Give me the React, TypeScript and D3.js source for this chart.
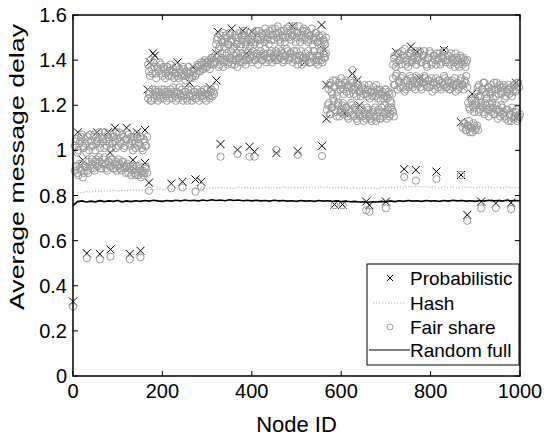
import React from "react";
import * as d3 from "d3";

// ---------- DATA ----------
const xTicks = [0, 200, 400, 600, 800, 1000];
const yTicks = [0, 0.2, 0.4, 0.6, 0.8, 1, 1.2, 1.4, 1.6];
const yTickLabels = ["0", "0.2", "0.4", "0.6", "0.8", "1", "1.2", "1.4", "1.6"];
const legendLabels = ["Probabilistic", "Hash", "Fair share", "Random full"];

const bandStep = 4;
// Fair share bands (values every 4 nodes from a start node)
const fairAUpper = [
  1.02, 1.05, 1.0, 1.04, 1.07, 1.01, 1.03, 1.06, 1.0, 1.04,
  1.02, 1.07, 1.03, 1.05, 1.01, 1.06, 1.04, 1.08, 1.02, 1.05,
  1.07, 1.03, 1.06, 1.01, 1.05, 1.08, 1.03, 1.06, 1.02, 1.05,
  1.07, 1.02, 1.04, 1.06, 1.01, 1.05, 1.03, 1.06, 1.0, 1.04, 1.02,
];
const fairAUpper2 = [
  1.04, 0.99, 1.03, 1.06, 1.02, 1.05, 0.99, 1.04, 1.07, 1.02,
  1.06, 1.0, 1.04, 1.08, 1.03, 1.05, 1.01, 1.04, 1.07, 1.03,
  1.01, 1.06, 1.04, 1.08, 1.02, 1.04, 1.07, 1.01, 1.05, 1.08,
  1.03, 1.06, 1.0, 1.03, 1.07, 1.02, 1.06, 1.01, 1.05, 1.02, 1.06,
];
const fairALower = [
  0.91, 0.93, 0.89, 0.92, 0.94, 0.9, 0.93, 0.91, 0.95, 0.92,
  0.94, 0.91, 0.96, 0.93, 0.95, 0.92, 0.96, 0.94, 0.91, 0.95,
  0.93, 0.96, 0.92, 0.95, 0.93, 0.94, 0.91, 0.95, 0.92, 0.93,
  0.9, 0.93, 0.91, 0.92, 0.89, 0.91, 0.93, 0.88, 0.91, 0.9, 0.92,
];
const fairALower2 = [
  0.93, 0.9, 0.94, 0.91, 0.88, 0.93, 0.95, 0.9, 0.93, 0.96,
  0.92, 0.95, 0.93, 0.97, 0.92, 0.94, 0.97, 0.92, 0.95, 0.93,
  0.96, 0.92, 0.94, 0.91, 0.96, 0.92, 0.95, 0.93, 0.9, 0.94,
  0.92, 0.89, 0.93, 0.9, 0.93, 0.89, 0.92, 0.9, 0.89, 0.93, 0.9,
];
const fairBUpper = [
  1.38, 1.33, 1.36, 1.39, 1.34, 1.37, 1.35, 1.38, 1.33, 1.36,
  1.34, 1.37, 1.35, 1.33, 1.36, 1.34, 1.37, 1.32, 1.35, 1.33,
  1.36, 1.31, 1.34, 1.32, 1.35, 1.33, 1.36, 1.34, 1.37, 1.35,
  1.38, 1.36, 1.39, 1.37, 1.4, 1.38, 1.41, 1.39,
];
const fairBUpper2 = [
  1.35, 1.4, 1.34, 1.37, 1.32, 1.36, 1.39, 1.34, 1.37, 1.32,
  1.37, 1.33, 1.38, 1.35, 1.32, 1.37, 1.33, 1.36, 1.34, 1.37,
  1.33, 1.35, 1.37, 1.34, 1.32, 1.36, 1.33, 1.38, 1.35, 1.39,
  1.36, 1.4, 1.37, 1.39, 1.36, 1.41, 1.38, 1.42,
];
const fairBLower = [
  1.23, 1.26, 1.22, 1.25, 1.27, 1.24, 1.26, 1.23, 1.25, 1.27,
  1.24, 1.26, 1.23, 1.25, 1.28, 1.24, 1.26, 1.23, 1.25, 1.27,
  1.24, 1.26, 1.22, 1.25, 1.27, 1.24, 1.26, 1.23, 1.25, 1.24,
  1.26, 1.23, 1.25, 1.27, 1.24, 1.26, 1.24, 1.25,
];
const fairBLower2 = [
  1.25, 1.22, 1.27, 1.23, 1.26, 1.22, 1.24, 1.27, 1.23, 1.26,
  1.22, 1.25, 1.27, 1.23, 1.26, 1.22, 1.25, 1.28, 1.24, 1.22,
  1.26, 1.23, 1.27, 1.24, 1.22, 1.26, 1.23, 1.27, 1.22, 1.26,
  1.24, 1.27, 1.22, 1.25, 1.23, 1.27, 1.26, 1.28,
];
const fairCUpper = [
  1.47, 1.5, 1.46, 1.49, 1.52, 1.48, 1.5, 1.47, 1.51, 1.49,
  1.46, 1.5, 1.48, 1.52, 1.47, 1.49, 1.51, 1.48, 1.5, 1.46,
  1.49, 1.52, 1.48, 1.5, 1.53, 1.49, 1.51, 1.48, 1.52, 1.5,
  1.53, 1.49, 1.51, 1.54, 1.5, 1.52, 1.48, 1.51, 1.53, 1.5,
  1.52, 1.55, 1.49, 1.51, 1.53, 1.5, 1.52, 1.48, 1.51, 1.54,
  1.5, 1.52, 1.49, 1.51, 1.47, 1.5, 1.52, 1.48, 1.5, 1.46, 1.49, 1.47,
];
const fairCUpper2 = [
  1.49, 1.45, 1.51, 1.48, 1.46, 1.51, 1.47, 1.52, 1.48, 1.45,
  1.51, 1.47, 1.5, 1.46, 1.51, 1.53, 1.47, 1.49, 1.52, 1.48,
  1.51, 1.47, 1.53, 1.49, 1.47, 1.52, 1.5, 1.54, 1.49, 1.47,
  1.51, 1.54, 1.49, 1.52, 1.55, 1.49, 1.53, 1.5, 1.48, 1.54,
  1.5, 1.53, 1.51, 1.55, 1.48, 1.52, 1.55, 1.5, 1.53, 1.49,
  1.53, 1.48, 1.51, 1.54, 1.49, 1.52, 1.48, 1.51, 1.47, 1.51, 1.48, 1.5,
];
const fairCLower = [
  1.39, 1.42, 1.38, 1.41, 1.37, 1.4, 1.43, 1.39, 1.41, 1.38,
  1.42, 1.4, 1.37, 1.41, 1.43, 1.39, 1.42, 1.4, 1.44, 1.41,
  1.39, 1.42, 1.4, 1.43, 1.41, 1.44, 1.4, 1.42, 1.39, 1.43,
  1.41, 1.44, 1.42, 1.4, 1.43, 1.45, 1.41, 1.43, 1.4, 1.42,
  1.44, 1.41, 1.43, 1.39, 1.42, 1.44, 1.4, 1.42, 1.38, 1.41,
  1.43, 1.4, 1.42, 1.39, 1.41, 1.44, 1.4, 1.38, 1.42, 1.4, 1.43, 1.41,
];
const fairCLower2 = [
  1.41, 1.37, 1.4, 1.43, 1.39, 1.42, 1.38, 1.41, 1.44, 1.4,
  1.38, 1.43, 1.41, 1.39, 1.42, 1.4, 1.38, 1.43, 1.4, 1.42,
  1.44, 1.4, 1.43, 1.38, 1.42, 1.4, 1.43, 1.45, 1.41, 1.4,
  1.43, 1.39, 1.41, 1.44, 1.4, 1.42, 1.44, 1.39, 1.42, 1.45,
  1.4, 1.43, 1.41, 1.44, 1.4, 1.38, 1.42, 1.44, 1.41, 1.39,
  1.41, 1.44, 1.39, 1.42, 1.44, 1.39, 1.42, 1.4, 1.44, 1.39, 1.41, 1.43,
];
const fairDUpper = [
  1.27, 1.3, 1.25, 1.28, 1.31, 1.26, 1.29, 1.32, 1.27, 1.3,
  1.26, 1.29, 1.31, 1.27, 1.25, 1.28, 1.3, 1.26, 1.24, 1.27,
  1.29, 1.25, 1.27, 1.23, 1.26, 1.28, 1.24, 1.27, 1.25, 1.22,
  1.26, 1.24, 1.27, 1.23, 1.25, 1.21,
];
const fairDUpper2 = [
  1.29, 1.26, 1.31, 1.28, 1.24, 1.3, 1.27, 1.29, 1.25, 1.31,
  1.28, 1.25, 1.28, 1.3, 1.27, 1.24, 1.29, 1.26, 1.28, 1.25,
  1.27, 1.24, 1.29, 1.26, 1.24, 1.26, 1.29, 1.23, 1.27, 1.25,
  1.23, 1.27, 1.24, 1.26, 1.22, 1.25,
];
const fairDLower = [
  1.18, 1.21, 1.16, 1.19, 1.22, 1.17, 1.2, 1.15, 1.18, 1.21,
  1.17, 1.19, 1.14, 1.17, 1.2, 1.15, 1.18, 1.13, 1.16, 1.19,
  1.15, 1.17, 1.14, 1.18, 1.16, 1.13, 1.17, 1.19, 1.15, 1.18,
  1.14, 1.17, 1.2, 1.16, 1.18, 1.15, 1.19, 1.17,
];
const fairDLower2 = [
  1.2, 1.16, 1.19, 1.23, 1.18, 1.15, 1.21, 1.17, 1.2, 1.16,
  1.19, 1.15, 1.18, 1.21, 1.16, 1.19, 1.14, 1.17, 1.15, 1.18,
  1.13, 1.16, 1.19, 1.15, 1.14, 1.18, 1.15, 1.13, 1.17, 1.14,
  1.19, 1.15, 1.17, 1.14, 1.19, 1.16, 1.18, 1.15,
];
const fairEUpper = [
  1.38, 1.42, 1.39, 1.43, 1.4, 1.44, 1.41, 1.38, 1.42, 1.39,
  1.43, 1.4, 1.42, 1.38, 1.41, 1.44, 1.39, 1.42, 1.4, 1.37,
  1.41, 1.43, 1.39, 1.42, 1.38, 1.4, 1.43, 1.39, 1.41, 1.44,
  1.4, 1.42, 1.38, 1.41, 1.39, 1.43, 1.4, 1.37, 1.41, 1.38, 1.4, 1.39,
];
const fairEUpper2 = [
  1.41, 1.37, 1.43, 1.4, 1.38, 1.42, 1.45, 1.4, 1.37, 1.43,
  1.39, 1.41, 1.44, 1.4, 1.43, 1.39, 1.42, 1.44, 1.38, 1.41,
  1.44, 1.38, 1.42, 1.4, 1.43, 1.41, 1.38, 1.42, 1.44, 1.39,
  1.42, 1.39, 1.43, 1.4, 1.37, 1.41, 1.38, 1.42, 1.39, 1.41, 1.37, 1.4,
];
const fairELower = [
  1.32, 1.29, 1.34, 1.31, 1.28, 1.33, 1.3, 1.27, 1.31, 1.29,
  1.32, 1.28, 1.3, 1.33, 1.29, 1.31, 1.27, 1.3, 1.32, 1.28,
  1.31, 1.29, 1.26, 1.3, 1.32, 1.28, 1.31, 1.27, 1.29, 1.32,
  1.28, 1.3, 1.27, 1.31, 1.29, 1.26, 1.3, 1.28, 1.32, 1.29, 1.31, 1.33,
];
const fairELower2 = [
  1.29, 1.33, 1.27, 1.3, 1.32, 1.28, 1.26, 1.31, 1.28, 1.33,
  1.29, 1.31, 1.27, 1.3, 1.32, 1.28, 1.3, 1.33, 1.29, 1.31,
  1.28, 1.32, 1.3, 1.27, 1.29, 1.31, 1.28, 1.3, 1.33, 1.28,
  1.31, 1.27, 1.3, 1.28, 1.32, 1.29, 1.27, 1.31, 1.29, 1.27, 1.3, 1.28,
];
const fairFUpper = [
  1.26, 1.29, 1.24, 1.27, 1.3, 1.25, 1.28, 1.26, 1.29, 1.23,
  1.27, 1.3, 1.25, 1.28, 1.26, 1.29, 1.24, 1.27, 1.25, 1.28,
  1.26, 1.29, 1.27, 1.3,
];
const fairFUpper2 = [
  1.28, 1.24, 1.27, 1.3, 1.26, 1.23, 1.28, 1.25, 1.27, 1.3,
  1.24, 1.27, 1.29, 1.25, 1.28, 1.23, 1.26, 1.29, 1.27, 1.24,
  1.29, 1.26, 1.3, 1.28,
];
const fairFLower = [
  1.21, 1.18, 1.22, 1.19, 1.23, 1.2, 1.17, 1.21, 1.19, 1.16,
  1.2, 1.18, 1.21, 1.17, 1.19, 1.16, 1.2, 1.18, 1.15, 1.19,
  1.17, 1.14, 1.18, 1.16, 1.13, 1.17, 1.15, 1.18, 1.14, 1.16,
];
const fairFLower2 = [
  1.19, 1.23, 1.2, 1.17, 1.21, 1.24, 1.18, 1.2, 1.17, 1.21,
  1.18, 1.15, 1.19, 1.21, 1.16, 1.18, 1.14, 1.17, 1.2, 1.16,
  1.15, 1.18, 1.13, 1.16, 1.19, 1.14, 1.17, 1.13, 1.15,
];
const fairFSmall = [1.1, 1.12, 1.09, 1.11, 1.08, 1.1, 1.12, 1.09, 1.11];
const fairFSmall2 = [1.12, 1.09, 1.11, 1.13, 1.1, 1.08, 1.11, 1.1, 1.09];

const fairBandStarts = [
  4, 6, 4, 6, 168, 170, 168, 170, 320, 322, 320, 322, 572, 574, 568, 570,
  716, 718, 716, 718, 904, 906, 884, 886, 872, 874,
];
const fairBandValues = [
  fairAUpper, fairAUpper2, fairALower, fairALower2,
  fairBUpper, fairBUpper2, fairBLower, fairBLower2,
  fairCUpper, fairCUpper2, fairCLower, fairCLower2,
  fairDUpper, fairDUpper2, fairDLower, fairDLower2,
  fairEUpper, fairEUpper2, fairELower, fairELower2,
  fairFUpper, fairFUpper2, fairFLower, fairFLower2,
  fairFSmall, fairFSmall2,
];

// Isolated nodes
const isoNodes = [0, 31, 60, 84, 127, 151, 170, 220, 245, 274, 287, 330, 368, 395, 406, 455, 503, 557, 585, 603, 625, 656, 663, 700, 741, 767, 813, 868, 882, 913, 946, 980];
const isoFair = [0.307, 0.522, 0.517, 0.529, 0.517, 0.526, 0.821, 0.832, 0.836, 0.817, 0.839, 0.972, 0.984, 0.972, 0.972, 1.002, 0.98, 0.975, 0.757, 0.757, 1.356, 0.735, 0.728, 0.743, 0.882, 0.866, 0.873, 0.891, 0.688, 0.743, 0.745, 0.74];
const isoProb = [0.33, 0.544, 0.541, 0.561, 0.541, 0.555, 0.857, 0.853, 0.861, 0.871, 0.861, 1.028, 1.002, 1.016, 0.994, 0.988, 0.996, 1.02, 0.76, 0.76, 1.34, 0.773, 0.757, 0.773, 0.917, 0.913, 0.906, 0.891, 0.714, 0.773, 0.765, 0.768];

// Probabilistic marks visible around the dense bands
const probBandNodes = [11, 22, 54, 78, 83, 94, 120, 134, 143, 161, 161, 167, 172, 179, 183, 234, 261, 268, 299, 306, 321, 321, 324, 355, 380, 388, 400, 455, 491, 518, 556, 562, 567, 567, 607, 636, 641, 723, 756, 770, 775, 830, 868, 893, 991, 991];
const probBandValues = [1.08, 0.957, 1.08, 1.08, 0.99, 1.1, 1.1, 0.957, 1.08, 1.09, 0.944, 1.27, 1.39, 1.43, 1.42, 1.39, 1.3, 1.37, 1.39, 1.28, 1.43, 1.31, 1.525, 1.54, 1.53, 1.43, 1.525, 1.41, 1.55, 1.39, 1.556, 1.445, 1.29, 1.14, 1.165, 1.31, 1.2, 1.435, 1.46, 1.436, 1.32, 1.445, 1.125, 1.25, 1.3, 1.145];

// Lines (sampled every 10 nodes)
const hashNodes = d3.range(10, 1001, 10);
const hashValues = [
  0.815, 0.812, 0.818, 0.814, 0.82, 0.816, 0.822, 0.818, 0.823, 0.819,
  0.824, 0.82, 0.826, 0.822, 0.827, 0.823, 0.828, 0.824, 0.829, 0.826,
  0.83, 0.826, 0.831, 0.827, 0.832, 0.828, 0.833, 0.829, 0.834, 0.83,
  0.835, 0.831, 0.836, 0.832, 0.835, 0.831, 0.837, 0.833, 0.836, 0.832,
  0.835, 0.831, 0.836, 0.832, 0.837, 0.833, 0.838, 0.834, 0.836, 0.832,
  0.837, 0.833, 0.838, 0.834, 0.839, 0.835, 0.838, 0.834, 0.837, 0.833,
  0.836, 0.832, 0.835, 0.831, 0.834, 0.83, 0.835, 0.831, 0.836, 0.833,
  0.838, 0.834, 0.84, 0.836, 0.841, 0.837, 0.842, 0.838, 0.84, 0.836,
  0.839, 0.835, 0.84, 0.836, 0.838, 0.834, 0.839, 0.835, 0.837, 0.833,
  0.838, 0.834, 0.839, 0.835, 0.837, 0.833, 0.838, 0.834, 0.836, 0.835,
];
const randomNodes = d3.range(0, 1001, 10);
const randomValues = [
  0.755,
  0.773, 0.776, 0.771, 0.775, 0.772, 0.777, 0.773, 0.776, 0.774, 0.778,
  0.772, 0.776, 0.773, 0.777, 0.774, 0.778, 0.775, 0.779, 0.776, 0.774,
  0.778, 0.775, 0.779, 0.776, 0.78, 0.777, 0.779, 0.776, 0.78, 0.777,
  0.781, 0.778, 0.78, 0.777, 0.781, 0.778, 0.78, 0.777, 0.779, 0.776,
  0.779, 0.776, 0.778, 0.775, 0.779, 0.776, 0.778, 0.775, 0.777, 0.774,
  0.778, 0.775, 0.777, 0.774, 0.778, 0.775, 0.777, 0.774, 0.776, 0.773,
  0.775, 0.772, 0.774, 0.771, 0.773, 0.77, 0.772, 0.771, 0.774, 0.772,
  0.776, 0.773, 0.777, 0.774, 0.778, 0.775, 0.777, 0.774, 0.778, 0.775,
  0.777, 0.774, 0.778, 0.775, 0.779, 0.776, 0.778, 0.775, 0.777, 0.774,
  0.778, 0.775, 0.779, 0.776, 0.778, 0.775, 0.779, 0.776, 0.778, 0.777,
];

// ---------- CHART ----------
const W = 546;
const H = 438;
const L = 73, R = 520, T = 15, B = 376;
const FONT = "'Liberation Sans', Arial, Helvetica, sans-serif";

export default function App() {
  const x = d3.scaleLinear().domain([0, 1000]).range([L, R]);
  const y = d3.scaleLinear().domain([0, 1.6]).range([B, T]);

  const fairPts: { n: number; v: number }[] = [];
  fairBandValues.forEach((vals, bi) => {
    vals.forEach((v, i) => fairPts.push({ n: fairBandStarts[bi] + i * bandStep, v }));
  });
  isoNodes.forEach((n, i) => fairPts.push({ n, v: isoFair[i] }));

  const probPts: { n: number; v: number }[] = [];
  probBandNodes.forEach((n, i) => probPts.push({ n, v: probBandValues[i] }));
  isoNodes.forEach((n, i) => probPts.push({ n, v: isoProb[i] }));

  const hashPath = d3
    .line<number>()
    .x((_, i) => x(hashNodes[i]))
    .y((v) => y(v))(hashValues) as string;
  const randPath = d3
    .line<number>()
    .x((_, i) => x(randomNodes[i]))
    .y((v) => y(v))(randomValues) as string;

  const cross = (cx: number, cy: number, s: number, key: string | number) => (
    <path
      key={key}
      d={`M${cx - s},${cy - s}L${cx + s},${cy + s}M${cx - s},${cy + s}L${cx + s},${cy - s}`}
      stroke="#000"
      strokeWidth={1}
      fill="none"
    />
  );

  const legX = 367, legY = 264, legW = 152, legH = 101;
  const legRows = [278, 303, 327, 350];

  return (
    <div style={{ position: "absolute", left: 0, top: 0 }}>
      <svg width={W} height={H} style={{ display: "block", background: "#fff" }} fontFamily={FONT}>
        <rect x={0} y={0} width={W} height={H} fill="#fff" />
        {/* Probabilistic */}
        <g>{probPts.map((p, i) => cross(x(p.n), y(p.v), 4, "p" + i))}</g>
        {/* Hash */}
        <path d={hashPath} fill="none" stroke="#b5b5b5" strokeWidth={1.2} strokeDasharray="1.2,1.8" />
        {/* Fair share */}
        <g>
          {fairPts.map((p, i) => (
            <circle key={"f" + i} cx={x(p.n)} cy={y(p.v)} r={3.6} fill="none" stroke="#9a9a9a" strokeWidth={1} />
          ))}
        </g>
        {/* Random full */}
        <path d={randPath} fill="none" stroke="#000" strokeWidth={1.6} />

        {/* Axes box */}
        <rect x={L} y={T} width={R - L} height={B - T} fill="none" stroke="#000" strokeWidth={1.5} />
        {xTicks.map((t) => (
          <g key={"xt" + t}>
            <line x1={x(t)} x2={x(t)} y1={B} y2={B - 5} stroke="#000" strokeWidth={1} />
            <line x1={x(t)} x2={x(t)} y1={T} y2={T + 5} stroke="#000" strokeWidth={1} />
            <text x={x(t)} y={398} fontSize={20} textAnchor="middle" fill="#000">
              {t}
            </text>
          </g>
        ))}
        {yTicks.map((t, i) => (
          <g key={"yt" + t}>
            <line x1={L} x2={L + 5} y1={y(t)} y2={y(t)} stroke="#000" strokeWidth={1} />
            <line x1={R} x2={R - 5} y1={y(t)} y2={y(t)} stroke="#000" strokeWidth={1} />
            <text x={67} y={y(t) + 7} fontSize={20} textAnchor="end" fill="#000">
              {yTickLabels[i]}
            </text>
          </g>
        ))}
        <text x={(L + R) / 2} y={432} fontSize={22} textAnchor="middle" fill="#000">
          Node ID
        </text>
        <text
          transform={`translate(24,167) rotate(-90)`}
          fontSize={20}
          textAnchor="middle"
          fill="#000"
          textLength={286}
          lengthAdjust="spacingAndGlyphs"
        >
          Average message delay
        </text>

        {/* Legend */}
        <rect x={legX} y={legY} width={legW} height={legH} fill="#fff" stroke="#000" strokeWidth={1} />
        {cross(390, legRows[0], 3, "lg0")}
        <line x1={373} x2={405} y1={legRows[1]} y2={legRows[1]} stroke="#b5b5b5" strokeWidth={1} strokeDasharray="1.2,1.8" />
        <circle cx={390} cy={legRows[2]} r={3} fill="none" stroke="#9a9a9a" strokeWidth={1} />
        <line x1={369} x2={410} y1={legRows[3]} y2={legRows[3]} stroke="#000" strokeWidth={1} />
        {legendLabels.map((s, i) => (
          <text key={s} x={410} y={legRows[i] + 7} fontSize={19} fill="#000">
            {s}
          </text>
        ))}
      </svg>
    </div>
  );
}
